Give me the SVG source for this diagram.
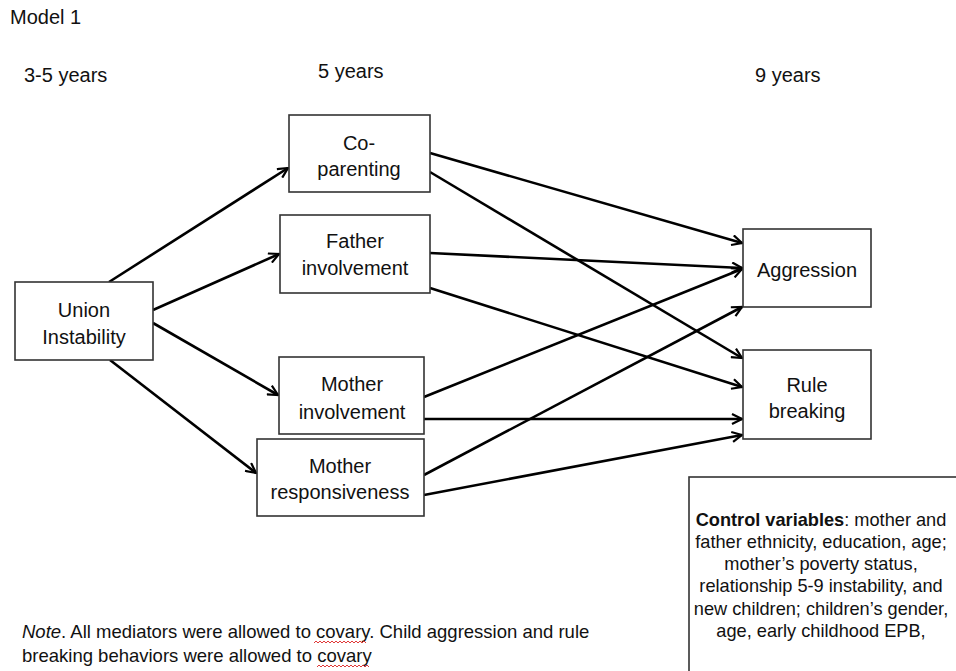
<svg xmlns="http://www.w3.org/2000/svg" width="956" height="671" viewBox="0 0 956 671">
  <style>
    text { font-family: "Liberation Sans", Arial, sans-serif; fill: #111; }
    .hdr { font-size: 20px; }
    .lbl { font-size: 20px; text-anchor: middle; }
    .small { font-size: 18.5px; }
    .ctl { font-size: 18.2px; text-anchor: middle; }
    .box { fill: #fff; stroke: #333; stroke-width: 1.6; }
    .edge { fill: none; stroke: #000; stroke-width: 2.6; marker-end: url(#arrow); }
    .squig { fill: none; stroke: #d22; stroke-width: 0.9; }
  </style>
  <defs>
    <marker id="arrow" viewBox="0 0 12 12" refX="11" refY="6" markerWidth="12" markerHeight="12" markerUnits="userSpaceOnUse" orient="auto">
      <path d="M1,1 L11,6 L1,11" fill="none" stroke="#000" stroke-width="2.2" stroke-linejoin="miter"/>
    </marker>
  </defs>
  <rect width="956" height="671" fill="#fff"/>

  <!-- headings -->
  <g id="headings">
    <text x="10" y="24" style="font-size:20px">Model 1</text>
    <text x="24" y="82" class="hdr">3-5 years</text>
    <text x="318" y="78" class="hdr">5 years</text>
    <text x="755" y="82" class="hdr">9 years</text>
  </g>

  <!-- connectors -->
  <g id="connectors">
    <line class="edge" x1="109" y1="282" x2="288" y2="168"/>
    <line class="edge" x1="153" y1="310" x2="279" y2="254"/>
    <line class="edge" x1="153" y1="323" x2="278" y2="395"/>
    <line class="edge" x1="110" y1="360" x2="256" y2="473"/>

    <line class="edge" x1="430" y1="153" x2="742" y2="243"/>
    <line class="edge" x1="430" y1="172" x2="742" y2="358"/>
    <line class="edge" x1="430" y1="253" x2="742" y2="268"/>
    <line class="edge" x1="430" y1="288" x2="742" y2="387"/>
    <line class="edge" x1="424" y1="397" x2="742" y2="269"/>
    <line class="edge" x1="424" y1="419" x2="742" y2="419"/>
    <line class="edge" x1="424" y1="475" x2="742" y2="307"/>
    <line class="edge" x1="424" y1="495" x2="742" y2="435"/>
  </g>

  <!-- nodes -->
  <g id="union">
    <rect class="box" x="15" y="282" width="138" height="78"/>
    <text x="84" y="317" class="lbl">Union</text>
    <text x="84" y="344" class="lbl">Instability</text>
  </g>
  <g id="coparenting">
    <rect class="box" x="289" y="115" width="141" height="77"/>
    <text x="359" y="150" class="lbl">Co-</text>
    <text x="359" y="176" class="lbl">parenting</text>
  </g>
  <g id="father">
    <rect class="box" x="280" y="215" width="150" height="78"/>
    <text x="355" y="248" class="lbl">Father</text>
    <text x="355" y="275" class="lbl">involvement</text>
  </g>
  <g id="motherInv">
    <rect class="box" x="279" y="357" width="145" height="77"/>
    <text x="352" y="391" class="lbl">Mother</text>
    <text x="352" y="419" class="lbl">involvement</text>
  </g>
  <g id="motherResp">
    <rect class="box" x="257" y="439" width="167" height="77"/>
    <text x="340" y="473" class="lbl">Mother</text>
    <text x="340" y="499" class="lbl">responsiveness</text>
  </g>
  <g id="aggression">
    <rect class="box" x="743" y="229" width="128" height="78"/>
    <text x="807" y="277" class="lbl">Aggression</text>
  </g>
  <g id="rule">
    <rect class="box" x="743" y="350" width="128" height="89"/>
    <text x="807" y="392" class="lbl">Rule</text>
    <text x="807" y="418" class="lbl">breaking</text>
  </g>

  <!-- control variables panel -->
  <g id="controls">
    <rect class="box" x="689" y="477" width="300" height="220"/>
    <text x="821" y="526" class="ctl"><tspan font-weight="bold">Control variables</tspan>: mother and</text>
    <text x="821" y="548" class="ctl">father ethnicity, education, age;</text>
    <text x="821" y="570" class="ctl">mother’s poverty status,</text>
    <text x="821" y="592" class="ctl">relationship 5-9 instability, and</text>
    <text x="821" y="615" class="ctl">new children; children’s gender,</text>
    <text x="821" y="637" class="ctl">age, early childhood EPB,</text>
  </g>

  <!-- footnote -->
  <g id="note">
    <text x="22" y="638" class="small"><tspan font-style="italic">Note</tspan>. All mediators were allowed to covary. Child aggression and rule</text>
    <text x="22" y="662" class="small">breaking behaviors were allowed to covary</text>
    <path class="squig" d="M314,643 l2,-2 l2,2 l2,-2 l2,2 l2,-2 l2,2 l2,-2 l2,2 l2,-2 l2,2 l2,-2 l2,2 l2,-2 l2,2 l2,-2 l2,2 l2,-2 l2,2 l2,-2 l2,2 l2,-2 l2,2 l2,-2 l2,2 l2,-2 l2,2"/>
    <path class="squig" d="M317,667 l2,-2 l2,2 l2,-2 l2,2 l2,-2 l2,2 l2,-2 l2,2 l2,-2 l2,2 l2,-2 l2,2 l2,-2 l2,2 l2,-2 l2,2 l2,-2 l2,2 l2,-2 l2,2 l2,-2 l2,2 l2,-2 l2,2 l2,-2 l2,2"/>
  </g>
</svg>
